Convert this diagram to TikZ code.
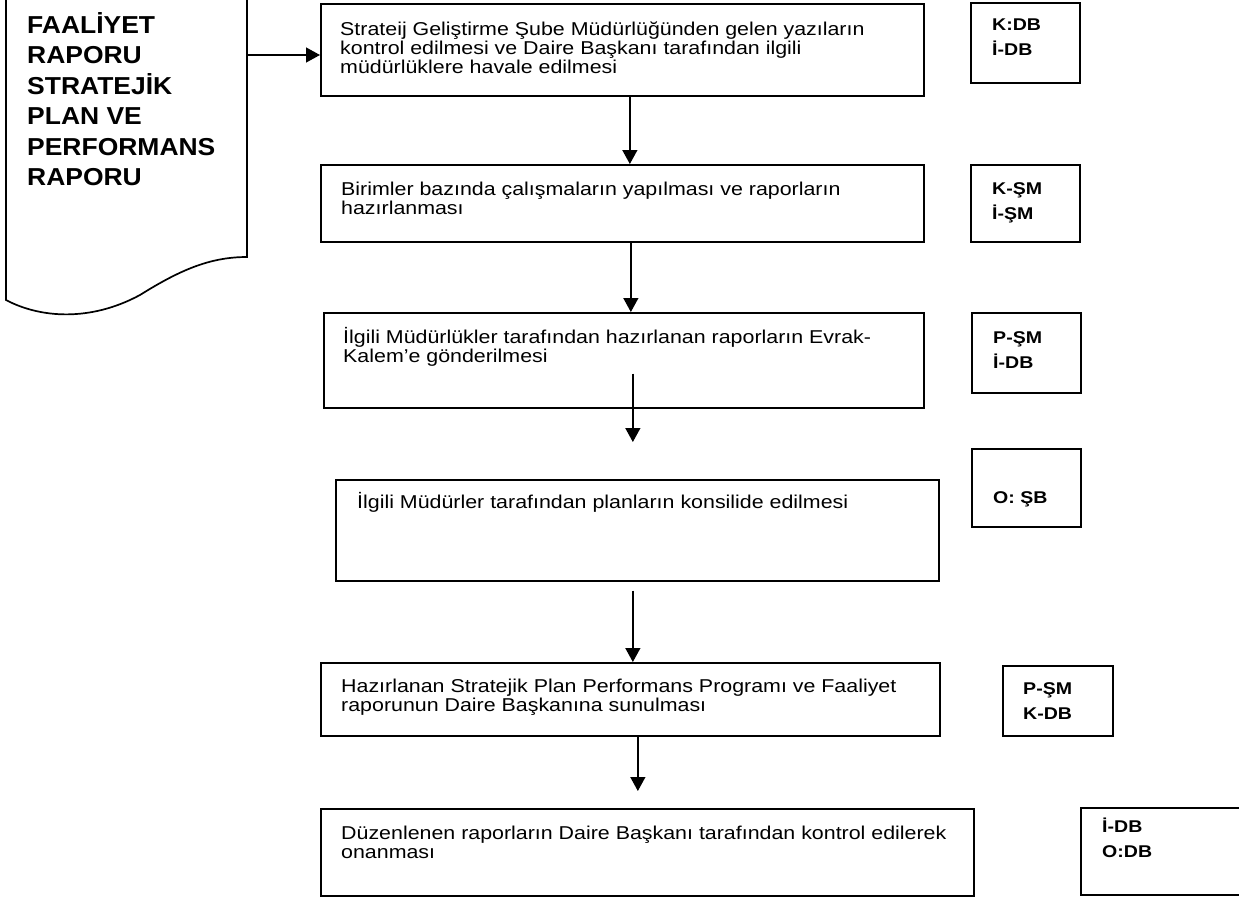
\documentclass[tikz,border=0pt]{standalone}
\usepackage{fontspec}
\setmainfont{Liberation Sans}[FakeStretch=1.15]
\newfontfamily\belgefont{Liberation Sans}[FakeStretch=1.08]
\usetikzlibrary{arrows.meta}

\begin{document}
\begin{tikzpicture}[
x=1pt, y=-1pt,
kutu/.style={rectangle, draw=black, line width=1.7pt, anchor=north west, inner sep=0pt},
metin/.style={anchor=north west, inner sep=0pt, align=left, font=\fontsize{18.6}{18.7}\selectfont},
etiket/.style={anchor=north west, inner sep=0pt, align=left, font=\fontsize{17}{25}\selectfont\bfseries},
belgeyazi/.style={anchor=north west, inner sep=0pt, align=left, font=\belgefont\fontsize{24.5}{30.5}\selectfont\bfseries},
ok/.style={line width=1.3pt, -{Triangle[length=14pt, width=15pt]}}
]
\useasboundingbox (0,0) rectangle (1239,899);

%Document
\draw[line width=1.7pt] (6,-10) -- (6,300) .. controls (40,318) and (90,322) .. (140,295)
	.. controls (180,270) and (210,257) .. (247,257) -- (247,-10);
\node[belgeyazi]	(belge)		at (27,12)		{FAAL\.IYET\\ RAPORU\\ STRATEJ\.IK\\ PLAN VE\\ PERFORMANS\\ RAPORU};
\coordinate (belge_cikis) at (247,55);

%Boxes
\node[kutu, minimum width=603, minimum height=92]	(k1)	at (320,3)		{};
\node[kutu, minimum width=603, minimum height=77]	(k2)	at (320,164)	{};
\node[kutu, minimum width=600, minimum height=95]	(k3)	at (323,312)	{};
\node[kutu, minimum width=603, minimum height=101]	(k4)	at (335,479)	{};
\node[kutu, minimum width=619, minimum height=73]	(k5)	at (320,662)	{};
\node[kutu, minimum width=653, minimum height=87]	(k6)	at (320,808)	{};

\node[metin]	(m1)	at ([xshift=20pt, yshift=-19pt]k1.north west)	{Strateij Geliştirme Şube Müdürlüğünden gelen yazıların\\ kontrol edilmesi ve Daire Başkanı tarafından ilgili\\ müdürlüklere havale edilmesi};
\node[metin]	(m2)	at ([xshift=21pt, yshift=-18pt]k2.north west)	{Birimler bazında çalışmaların yapılması ve raporların\\ hazırlanması};
\node[metin]	(m3)	at ([xshift=20pt, yshift=-15pt]k3.north west)	{İlgili Müdürlükler tarafından hazırlanan raporların Evrak-\\ Kalem’e gönderilmesi};
\node[metin]	(m4)	at ([xshift=22pt, yshift=-13pt]k4.north west)	{İlgili Müdürler tarafından planların konsilide edilmesi};
\node[metin]	(m5)	at ([xshift=21pt, yshift=-17pt]k5.north west)	{Hazırlanan Stratejik Plan Performans Programı ve Faaliyet\\ raporunun Daire Başkanına sunulması};
\node[metin]	(m6)	at ([xshift=21pt, yshift=-18pt]k6.north west)	{Düzenlenen raporların Daire Başkanı tarafından kontrol edilerek\\ onanması};

%Tags
\node[kutu, minimum width=109, minimum height=80]	(t1)	at (970,2)		{};
\node[kutu, minimum width=109, minimum height=77]	(t2)	at (970,164)	{};
\node[kutu, minimum width=109, minimum height=80]	(t3)	at (971,312)	{};
\node[kutu, minimum width=109, minimum height=78]	(t4)	at (971,448)	{};
\node[kutu, minimum width=110, minimum height=70]	(t5)	at (1002,665)	{};
\node[kutu, minimum width=180, minimum height=87]	(t6)	at (1080,807)	{};

\node[etiket]	(e1)	at ([xshift=22pt, yshift=-17pt]t1.north west)	{K:DB\\ İ-DB};
\node[etiket]	(e2)	at ([xshift=22pt, yshift=-18pt]t2.north west)	{K-ŞM\\ İ-ŞM};
\node[etiket]	(e3)	at ([xshift=22pt, yshift=-19pt]t3.north west)	{P-ŞM\\ İ-DB};
\node[etiket]	(e4)	at ([xshift=22pt, yshift=-43pt]t4.north west)	{O: ŞB};
\node[etiket]	(e5)	at ([xshift=21pt, yshift=-17pt]t5.north west)	{P-ŞM\\ K-DB};
\node[etiket]	(e6)	at ([xshift=22pt, yshift=-11pt]t6.north west)	{İ-DB\\ O:DB};

%Lines
\draw[ok] (belge_cikis)						--	(belge_cikis -| k1.west);
\draw[ok] ([xshift=7.5pt]k1.south)				--	([xshift=7.5pt]k2.north);
\draw[ok] ([xshift=8.5pt]k2.south)				--	([xshift=7pt]k3.north);
\draw[ok] ([xshift=9pt, yshift=35pt]k3.south)		--	([xshift=-4.5pt, yshift=37pt]k4.north);
\draw[ok] ([xshift=-4.5pt, yshift=-9pt]k4.south)	--	([xshift=2.5pt]k5.north);
\draw[ok] ([xshift=7.5pt]k5.south)				--	([xshift=-9.5pt, yshift=17pt]k6.north);

\end{tikzpicture}
\end{document}
